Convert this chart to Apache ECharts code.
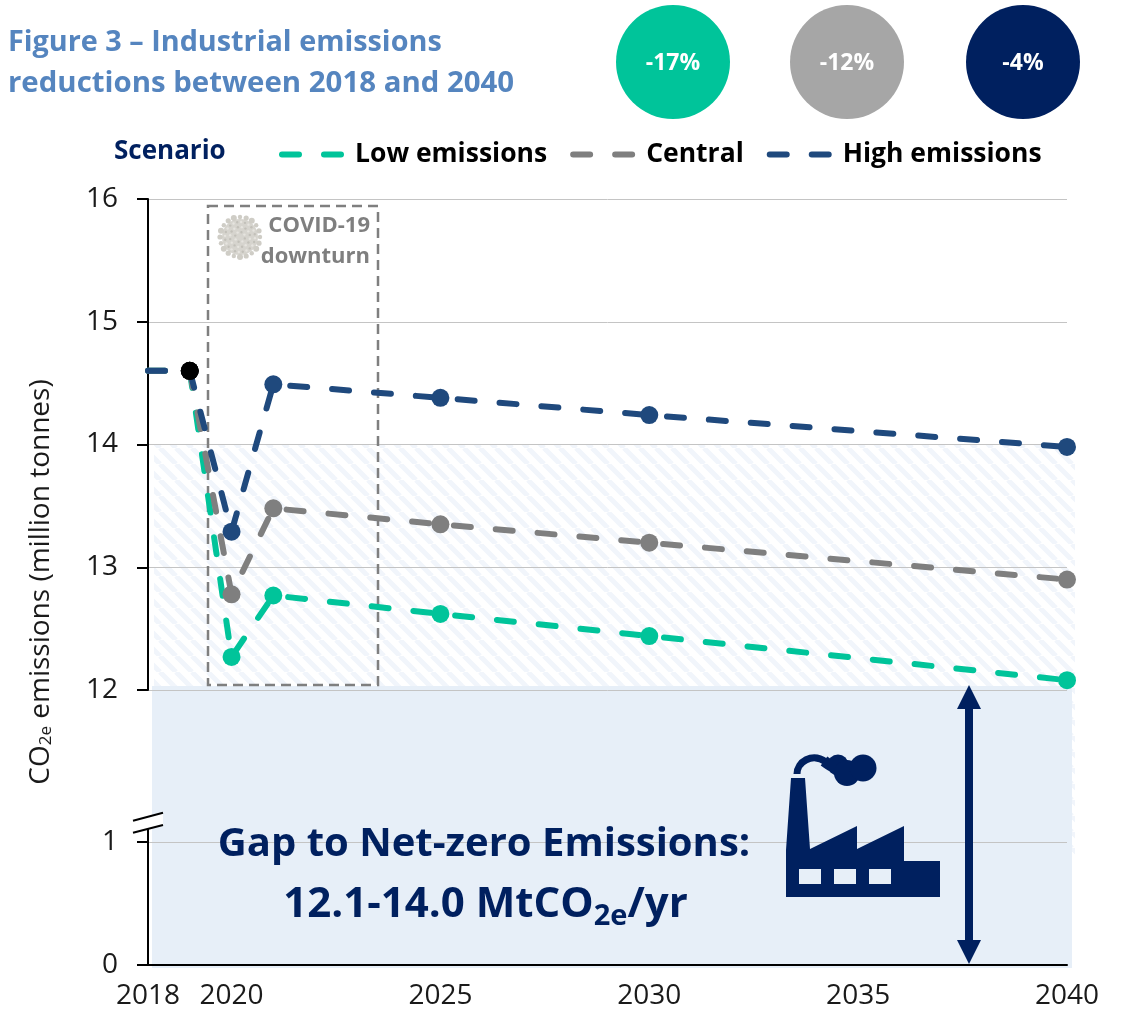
<!DOCTYPE html>
<html><head><meta charset="utf-8">
<style>html,body{margin:0;padding:0;background:#fff}#c{width:1127px;height:1010px}</style>
<script src="https://cdn.jsdelivr.net/npm/echarts@6/dist/echarts.min.js"></script>
</head><body><div id="c"></div>
<script>
const years = [2018, 2019, 2020, 2021, 2025, 2030, 2040];
const lowValues = [14.6, 14.6, 12.27, 12.77, 12.62, 12.44, 12.08];
const centralValues = [14.6, 14.6, 12.78, 13.48, 13.35, 13.20, 12.90];
const highValues = [14.6, 14.6, 13.29, 14.49, 14.38, 14.24, 13.98];
const xTickLabels = [2018, 2020, 2025, 2030, 2035, 2040];
const yTickLabels = [0, 1, 12, 13, 14, 15, 16];
const reductions = ['-17%', '-12%', '-4%'];
const FONT = '"Open Sans", sans-serif';
const GREEN = '#00C49A', GREY = '#7F7F7F', BLUE = '#1F497D', NAVY = '#00205F', BAND = '#E7EFF8';

const chart = echarts.init(document.getElementById('c'), null, {renderer: 'canvas'});
const pair = vals => years.map((y, i) => {
  const d = {value: [y, vals[i]]};
  if (i === 0) { d.symbol = 'none'; }
  if (i === 1) { d.itemStyle = {color: '#000'}; }
  return d;
});
const mkSeries = (name, vals, color) => ({
  name, type: 'line', data: pair(vals), symbol: 'circle', symbolSize: 18, clip: false,
  itemStyle: {color}, lineStyle: {color, width: 6, type: [17, 25], cap: 'round'}, z: 5, animation: false
});
chart.setOption({
  animation: false,
  grid: {left: 148, right: 60, top: 199, bottom: 45, containLabel: false, outerBoundsMode: 'none'},
  legend: {
    left: 279, top: 141, itemWidth: 66, itemHeight: 26, itemGap: 23, padding: 0, selectedMode: false,
    data: ['Low emissions', 'Central', 'High emissions'],
    itemStyle: {opacity: 0},
    lineStyle: {width: 6, type: [17, 25], cap: 'round'},
    textStyle: {fontFamily: FONT, fontWeight: 'bold', fontSize: 26.5, color: '#000', padding: [0, 0, 0, 2]}
  },
  xAxis: {
    type: 'value', min: 2018, max: 2040, interval: 1,
    axisLine: {show: true, lineStyle: {color: '#000', width: 2}, onZero: false},
    axisTick: {show: false}, splitLine: {show: false},
    axisLabel: {customValues: xTickLabels, formatter: v => String(v), fontFamily: FONT, fontSize: 28, color: '#1a1a1a', margin: 17, showMinLabel: true, showMaxLabel: true}
  },
  yAxis: {
    type: 'value', min: 0, max: 16, interval: 1,
    breaks: [{start: 1.19, end: 12, gap: 1.05}],
    breakArea: {show: false},
    axisLine: {show: true, lineStyle: {color: '#000', width: 2}},
    axisTick: {show: true, length: 11, lineStyle: {color: '#000', width: 2}, customValues: yTickLabels},
    axisLabel: {customValues: yTickLabels, formatter: v => String(v), fontFamily: FONT, fontSize: 28, color: '#1a1a1a', margin: 30, padding: [4, 0, 0, 0]},
    splitLine: {show: true, lineStyle: {color: '#C4C4C4', width: 1}},
    name: '{a|CO}{s|2e}{a| emissions (million tonnes)}',
    nameLocation: 'middle', nameRotate: 90, nameGap: 93,
    nameTextStyle: {rich: {
      a: {fontFamily: FONT, fontSize: 28, color: '#1a1a1a'},
      s: {fontFamily: FONT, fontSize: 17, color: '#1a1a1a', verticalAlign: 'bottom', padding: [9, 0, 0, 0]}
    }}
  },
  series: [
    mkSeries('Low emissions', lowValues, GREEN),
    mkSeries('Central', centralValues, GREY),
    mkSeries('High emissions', highValues, BLUE)
  ]
});

const X = v => chart.convertToPixel({xAxisIndex: 0}, v);
const Y = v => chart.convertToPixel({yAxisIndex: 0}, v);

function hatch() {
  const s = 16, c = document.createElement('canvas');
  c.width = c.height = s;
  const g = c.getContext('2d');
  g.fillStyle = '#fff'; g.fillRect(0, 0, s, s);
  g.strokeStyle = '#F1F5FB'; g.lineWidth = 5;
  for (const o of [-s, 0, s]) { g.beginPath(); g.moveTo(o, 0); g.lineTo(o + s, s); g.stroke(); }
  return c;
}
const x0 = X(2018), x1 = X(2040), y12 = Y(12), y14 = Y(14), y0 = Y(0), y1 = Y(1);
const txt = (x, y, t, o) => ({type: 'text', x, y, z: 20, style: Object.assign({text: t, fontFamily: FONT, verticalAlign: 'middle'}, o)});

const circleCols = [GREEN, '#A6A6A6', NAVY], circleX = [673, 847, 1023];
const badges = [];
reductions.forEach((r, i) => {
  badges.push({type: 'circle', shape: {cx: circleX[i], cy: 62, r: 57}, style: {fill: circleCols[i]}, z: 20});
  badges.push(txt(circleX[i], 63, r, {fill: '#fff', fontWeight: 'bold', fontSize: 23, align: 'center'}));
});

const virus = [];
const vx = 240, vy = 237;
virus.push({type: 'circle', shape: {cx: vx, cy: vy, r: 18}, style: {fill: '#D6D4CE'}, z: 3});
for (let i = 0; i < 20; i++) {
  const a = i / 20 * Math.PI * 2;
  virus.push({type: 'circle', shape: {cx: vx + Math.cos(a) * 20, cy: vy + Math.sin(a) * 20, r: 2.2 + (i % 3) * 0.4}, style: {fill: '#CFCDC6'}, z: 3});
}
for (let r = 5; r <= 15; r += 5) for (let i = 0; i < r * 1.6; i++) {
  const a = i / (r * 1.6) * Math.PI * 2 + r;
  virus.push({type: 'circle', shape: {cx: vx + Math.cos(a) * r, cy: vy + Math.sin(a) * r, r: 1.2}, style: {fill: i % 2 ? '#E6E4DF' : '#C2C0B9'}, z: 3});
}

const arrowX = 969, at = y12 - 5, ab = y0 - 1;
const factoryOutline = [[786, 897], [786, 850], [791, 778], [805, 778], [810, 849], [857, 826], [857, 849], [904, 826], [904, 861], [940, 861], [940, 897]];
const windowX = [799, 834, 869];
const fStyle = {fill: NAVY};

chart.setOption({graphic: [
  {type: 'rect', shape: {x: x0 + 6, y: y14, width: x1 - x0 + 2, height: 855 - y14}, style: {fill: {image: hatch(), repeat: 'repeat'}}, z: -3},
  {type: 'rect', shape: {x: x0 + 4, y: y12 - 4, width: x1 - x0 + 1, height: y0 - y12 + 7}, style: {fill: BAND}, z: -2},
  {type: 'rect', shape: {x: 208, y: 206, width: 170, height: 479}, style: {fill: 'none', stroke: GREY, lineWidth: 2.5, lineDash: [10, 6]}, z: 2},
  ...virus,
  txt(370, 226, 'COVID-19', {fill: GREY, fontWeight: 'bold', fontSize: 22, align: 'right'}),
  txt(370, 257, 'downturn', {fill: GREY, fontWeight: 'bold', fontSize: 22, align: 'right'}),
  txt(8, 43, 'Figure 3 \u2013 Industrial emissions', {fill: '#5585BF', fontWeight: 'bold', fontSize: 28.8, align: 'left'}),
  txt(8, 84, 'reductions between 2018 and 2040', {fill: '#5585BF', fontWeight: 'bold', fontSize: 29.4, align: 'left'}),
  txt(114, 152, 'Scenario', {fill: NAVY, fontWeight: 'bold', fontSize: 26, align: 'left'}),
  ...badges,
  // axis-break mark
  {type: 'polygon', shape: {points: [[133, 820.7], [163, 812.7], [163, 825], [133, 832.7]]}, style: {fill: '#fff'}, z: 8},
  {type: 'line', shape: {x1: 133, y1: 820.7, x2: 163, y2: 812.7}, style: {stroke: '#000', lineWidth: 2}, z: 9},
  {type: 'line', shape: {x1: 133, y1: 832.7, x2: 163, y2: 825}, style: {stroke: '#000', lineWidth: 2}, z: 9},
  // gap annotation
  txt(484, y1 + 2, 'Gap to Net-zero Emissions:', {fill: NAVY, fontWeight: 'bold', fontSize: 40, align: 'center'}),
  {type: 'text', x: 485.5, y: 905, z: 20, style: {
    align: 'center', verticalAlign: 'middle', text: '{b|12.1-14.0 MtCO}{s|2e}{b|/yr}',
    rich: {
      b: {fontFamily: FONT, fontWeight: 'bold', fontSize: 42, fill: NAVY},
      s: {fontFamily: FONT, fontWeight: 'bold', fontSize: 29, fill: NAVY, verticalAlign: 'bottom', padding: [24, 0, 0, 0]}
    }
  }},
  // arrow
  {type: 'polygon', shape: {points: [
    [arrowX, at], [arrowX + 12, at + 24], [arrowX + 4, at + 24], [arrowX + 4, ab - 24], [arrowX + 12, ab - 24],
    [arrowX, ab], [arrowX - 12, ab - 24], [arrowX - 4, ab - 24], [arrowX - 4, at + 24], [arrowX - 12, at + 24]
  ]}, style: {fill: NAVY}, z: 15},
  // factory icon
  {type: 'polygon', shape: {points: factoryOutline}, style: fStyle, z: 15},
  ...windowX.map(x => ({type: 'rect', shape: {x, y: 869, width: 22, height: 15}, style: {fill: BAND}, z: 16})),
  {type: 'bezierCurve', shape: {x1: 797, y1: 774, cpx1: 797, cpy1: 762, cpx2: 812, cpy2: 752, x2: 826, y2: 762}, style: {fill: 'none', stroke: NAVY, lineWidth: 7}, z: 15},
  {type: 'bezierCurve', shape: {x1: 824, y1: 761, cpx1: 832, cpy1: 767, cpx2: 840, cpy2: 772, x2: 850, y2: 770}, style: {fill: 'none', stroke: NAVY, lineWidth: 11}, z: 15},
  {type: 'circle', shape: {cx: 838, cy: 765, r: 10.5}, style: fStyle, z: 15},
  {type: 'circle', shape: {cx: 847, cy: 773, r: 13}, style: fStyle, z: 15},
  {type: 'circle', shape: {cx: 863, cy: 768, r: 13.5}, style: fStyle, z: 15}
]});
</script></body></html>
